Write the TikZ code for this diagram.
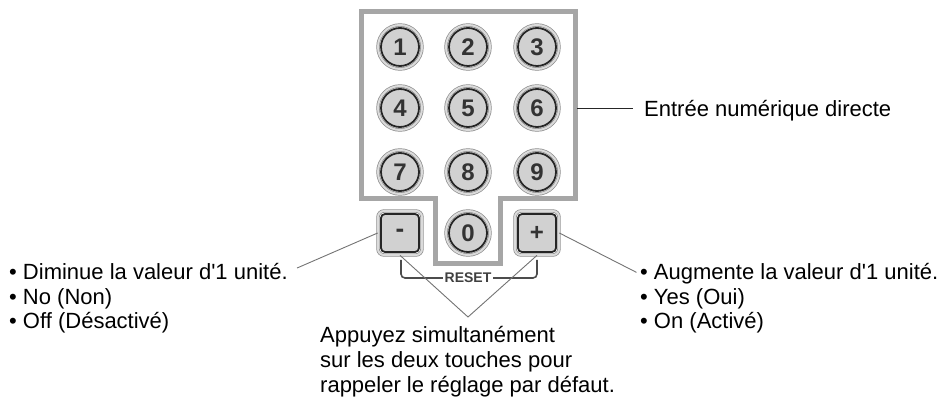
\documentclass[tikz,border=0pt]{standalone}
\usepackage{fontspec}
\setmainfont{Liberation Sans}

\begin{document}
\begin{tikzpicture}[x=1pt, y=-1pt,
    note/.style={anchor=base west, inner sep=0pt, font=\fontsize{22}{24}\selectfont},
    numkey/.style={circle, draw=black!85, line width=1.8pt, fill=black!18,
                   minimum size=38pt, inner sep=0pt,
                   font=\fontsize{24}{24}\selectfont\bfseries, text=black!80},
    sqkey/.style={numkey, rectangle, rounded corners=4pt},
    ring/.style={circle, draw=black!45, line width=0.7pt, double=black!14,
                 double distance=2pt, minimum size=44pt, inner sep=0pt},
    sqring/.style={ring, rectangle, rounded corners=6pt},
    panel/.style={draw=black!35, line width=5pt, line join=miter},
    lead/.style={draw=black!55, line width=0.9pt},
    bracket/.style={draw=black!70, line width=1.6pt, rounded corners=4pt}
  ]
  \useasboundingbox (0,0) rectangle (943,403);

  % keypad frame
  \draw[panel] (361,12) -| (575,199) -| (500,264) -| (435,199) -- (361,199) -- cycle;

  % number keys
  \foreach \n/\x/\y in {1/400/47, 2/468/47, 3/537/47,
                        4/400/108, 5/468/108, 6/537/108,
                        7/400/172, 8/468/172, 9/537/172, 0/468/233} {
    \node[ring] at (\x,\y) {};
    \node[numkey] (k\n) at (\x,\y) {\n};
  }
  \node[sqring] (rminus) at (400,233) {};
  \node[sqkey] (kminus) at (400,233) {\fontsize{26}{26}\selectfont -};
  \node[sqring] (rplus) at (537,233) {};
  \node[sqkey] (kplus) at (537,233) {\fontsize{24}{24}\selectfont +};

  % reset bracket
  \node[inner sep=1.5pt, font=\fontsize{14}{14}\selectfont\bfseries, text=black!75] (reset) at (468,278) {RESET};
  \draw[bracket] (401,260) |- (reset.west);
  \draw[bracket] (537,260) |- (reset.east);

  % labels
  \coordinate (pedge) at (577,108);
  \node[note] (num) at (644,117) {Entrée numérique directe};
  \draw[lead, draw=black!85, shorten >=11pt] (pedge) -- (pedge -| num.west);

  \node[note] (dimin) at (9,280) {• Diminue la valeur d\textquotesingle 1 unité.};
  \node[note] (non) at (9,304.5) {• No (Non)};
  \node[note] (off) at (9,329) {• Off (Désactivé)};
  \draw[lead, shorten >=10pt] (rminus.west) -- (dimin.east);

  \node[note] (augm) at (640,280) {• Augmente la valeur d\textquotesingle 1 unité.};
  \node[note] (oui) at (640,304.5) {• Yes (Oui)};
  \node[note] (on) at (640,329) {• On (Activé)};
  \draw[lead, shorten >=4pt] (rplus.east) -- (augm.west);

  \coordinate (apex) at (468,317);
  \draw[lead] (rminus.south) -- (apex) -- (rplus.south);
  \node[note] (appui1) at (320,343) {Appuyez simultanément};
  \node[note] (appui2) at (320,367.5) {sur les deux touches pour};
  \node[note] (appui3) at (320,392) {rappeler le réglage par défaut.};
\end{tikzpicture}
\end{document}
